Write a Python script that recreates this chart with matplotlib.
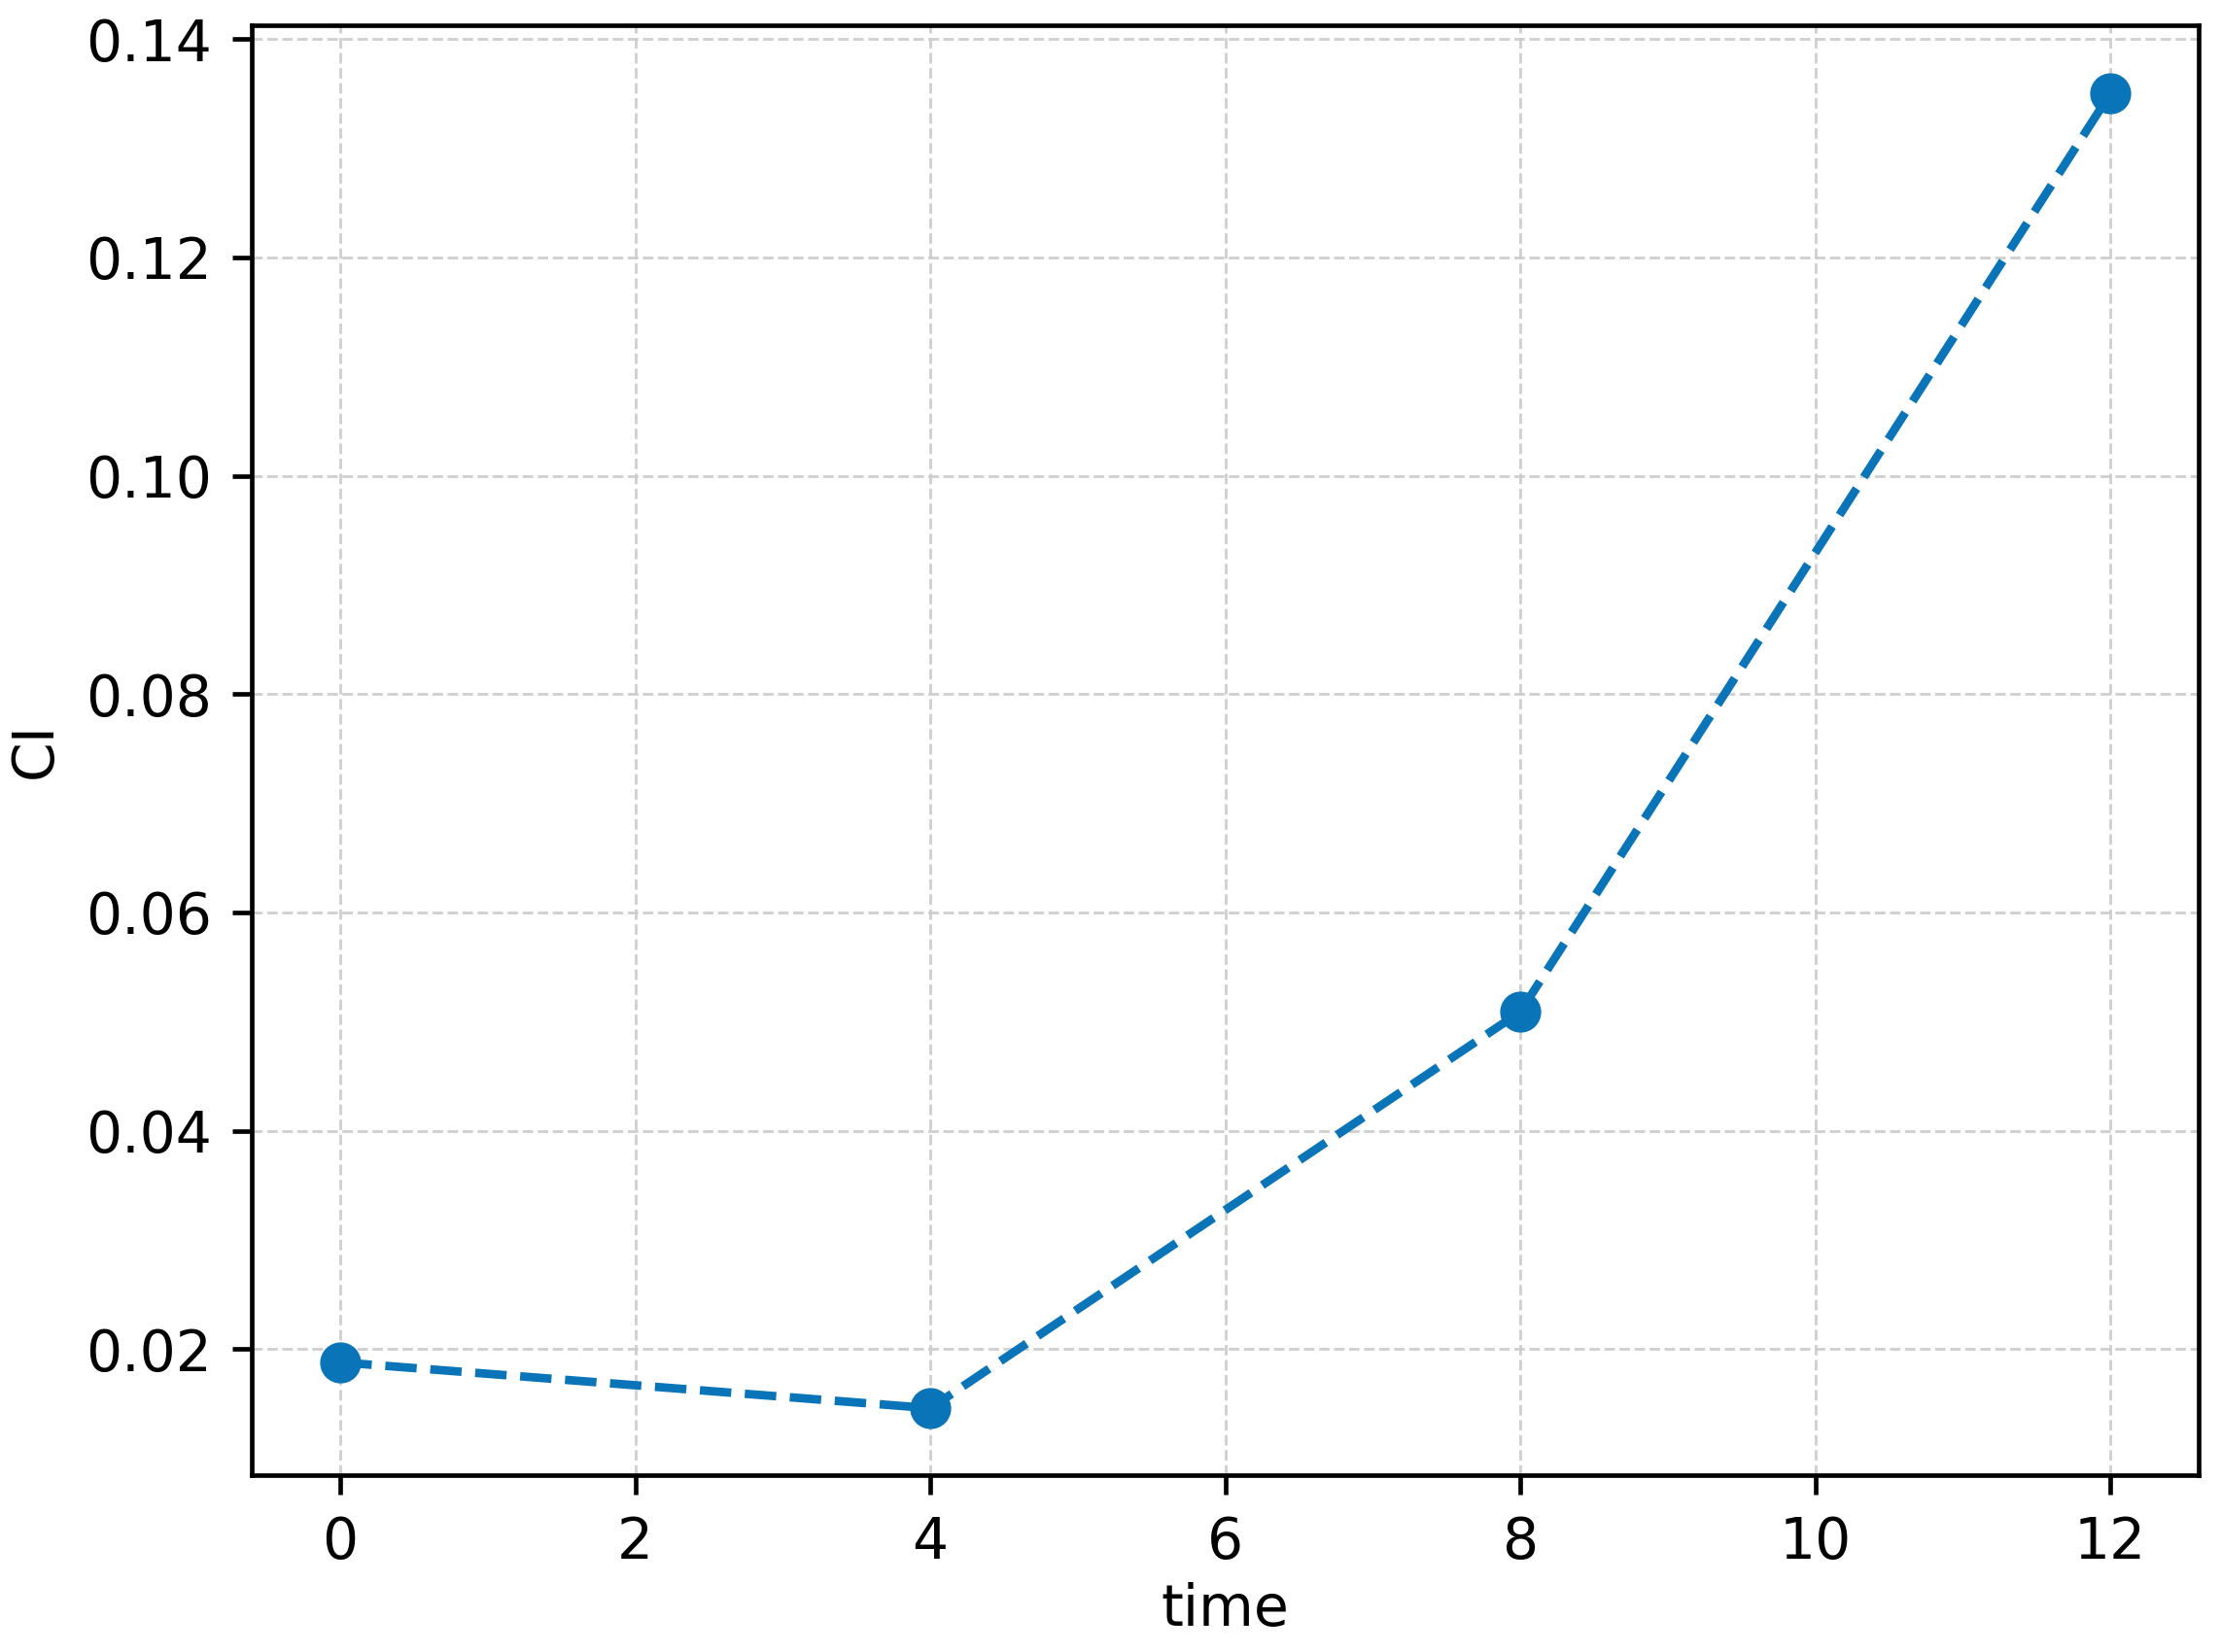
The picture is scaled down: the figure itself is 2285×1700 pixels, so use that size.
import matplotlib
matplotlib.use("Agg")
from matplotlib import pyplot as plt

# CI over time
time = [0, 4, 8, 12]
ci = [0.0188, 0.0146, 0.0509, 0.1350]

xticks = [0, 2, 4, 6, 8, 10, 12]
yticks = [0.02, 0.04, 0.06, 0.08, 0.10, 0.12, 0.14]

S = 4.2  # everything scaled up from matplotlib defaults

plt.rcParams['font.family'] = 'DejaVu Sans'
plt.rcParams['font.size'] = 10 * S
plt.rcParams['axes.linewidth'] = 0.8 * S
plt.rcParams['xtick.major.width'] = 0.8 * S
plt.rcParams['ytick.major.width'] = 0.8 * S
plt.rcParams['xtick.major.size'] = 3.5 * S
plt.rcParams['ytick.major.size'] = 3.5 * S
plt.rcParams['xtick.major.pad'] = 3.5 * S
plt.rcParams['ytick.major.pad'] = 3.5 * S

fig = plt.figure(figsize=(22.85, 17), dpi=100)
ax = fig.add_axes([0.1134, 0.107, 0.8766, 0.878])

ax.plot(time, ci, linestyle='--', marker='o', color='#0a74b8',
        linewidth=1.5 * S, markersize=7 * S, dashes=(3.7, 1.6))

ax.grid(True, linestyle='--', color='#cccccc', linewidth=0.5 * S, alpha=0.9)
ax.set_xticks(xticks)
ax.set_yticks(yticks)
ax.set_yticklabels(["%.2f" % v for v in yticks])
ax.set_xlim(-0.6, 12.6)
ax.set_ylim(0.00846, 0.1413)
ax.set_xlabel("time", labelpad=2 * S)
ax.set_ylabel("CI", labelpad=4 * S)

fig.savefig("out.png", dpi=100)
